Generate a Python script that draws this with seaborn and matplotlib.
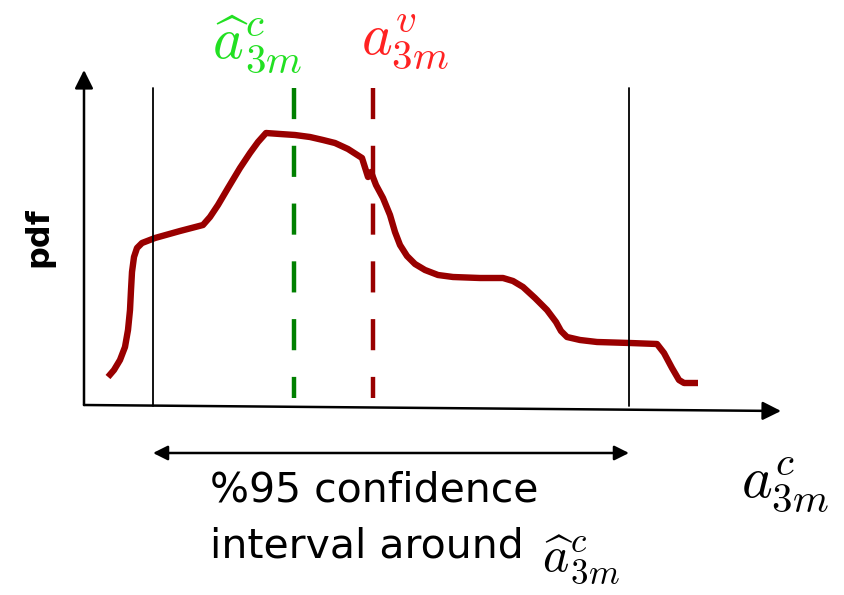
import numpy as np
import pandas as pd
import seaborn as sns
import matplotlib.pyplot as plt

# schematic pdf curve (pixel-like units, y grows downward)
curve_x = [108, 114, 120, 125, 128, 130, 131, 132, 134, 137, 142, 155, 180, 203, 210, 218,
           228, 240, 250, 258, 266, 280, 295, 310, 323, 335, 348, 362, 368, 371, 376, 383,
           390, 395, 400, 407, 415, 425, 438, 453, 480, 503, 513, 523, 535, 547, 556, 561,
           567, 580, 597, 630, 657, 664, 672, 679, 684, 698]
curve_y = [377, 370, 360, 347, 330, 310, 290, 272, 257, 248, 243, 238, 231, 225, 217, 205,
           188, 168, 153, 142, 133, 134, 135, 137, 140, 143, 149, 158, 177, 172, 185, 198,
           215, 232, 245, 256, 264, 270, 275, 277, 278, 278, 281, 287, 298, 310, 322, 331,
           337, 340, 342, 343, 344, 353, 368, 380, 383, 383]

ci_bounds = [153, 629]      # confidence interval limits
a_hat_c = 294               # estimate
a_v = 373                   # true value

axis_origin = (84, 405)
x_axis_end = (781, 411)
y_axis_end = (84, 70)

sns.set_style('white')
plt.rcParams['mathtext.fontset'] = 'cm'
plt.rcParams['font.family'] = ['DejaVu Sans']
plt.rcParams['text.color'] = 'black'

fig = plt.figure(figsize=(8.44, 5.95), dpi=100)
ax = fig.add_axes([0, 0, 1, 1])
ax.set_xlim(0, 844)
ax.set_ylim(595, 0)
ax.axis('off')

df = pd.DataFrame({'x': curve_x, 'pdf': curve_y})
sns.lineplot(data=df, x='x', y='pdf', sort=False, color='#990000', lw=4.6,
             solid_joinstyle='round', solid_capstyle='butt', ax=ax)

# axes with arrow heads
arrow = dict(arrowstyle='-|>', color='black', lw=1.8, mutation_scale=28, shrinkA=0, shrinkB=0)
ax.annotate('', xy=x_axis_end, xytext=axis_origin, arrowprops=arrow)
ax.annotate('', xy=y_axis_end, xytext=axis_origin, arrowprops=arrow)

# confidence interval limits
for xb in ci_bounds:
    ax.plot([xb, xb], [88, 406], color='black', lw=1.3)

# estimate and true value
ax.plot([a_hat_c, a_hat_c], [88, 398], color='#008000', lw=3.2, dashes=(7, 6))
ax.plot([a_v, a_v], [88, 398], color='#990000', lw=3.2, dashes=(7, 6))

ax.annotate('', xy=(ci_bounds[0], 453), xytext=(ci_bounds[1], 453),
            arrowprops=dict(arrowstyle='<|-|>', color='black', lw=1.8, mutation_scale=22,
                            shrinkA=0, shrinkB=0))

ax.text(257, 44, r'$\widehat{a}^{c}_{3m}$', color='#22e022', fontsize=42,
        ha='center', va='center')
ax.text(405, 42, r'$a^{v}_{3m}$', color='#ff2222', fontsize=42,
        ha='center', va='center')
ax.text(785, 485, r'$a^{c}_{3m}$', color='black', fontsize=42,
        ha='center', va='center')
ax.text(39, 237, 'pdf', rotation=90, fontsize=23, fontweight='bold',
        ha='center', va='center')
ax.text(210, 491, '%95 confidence', fontsize=29.5, ha='left', va='center')
ax.text(210, 547, 'interval around', fontsize=29.5, ha='left', va='center')
ax.text(581, 560, r'$\widehat{a}^{c}_{3m}$', color='black', fontsize=36,
        ha='center', va='center')

fig.savefig('out.png', dpi=100)
